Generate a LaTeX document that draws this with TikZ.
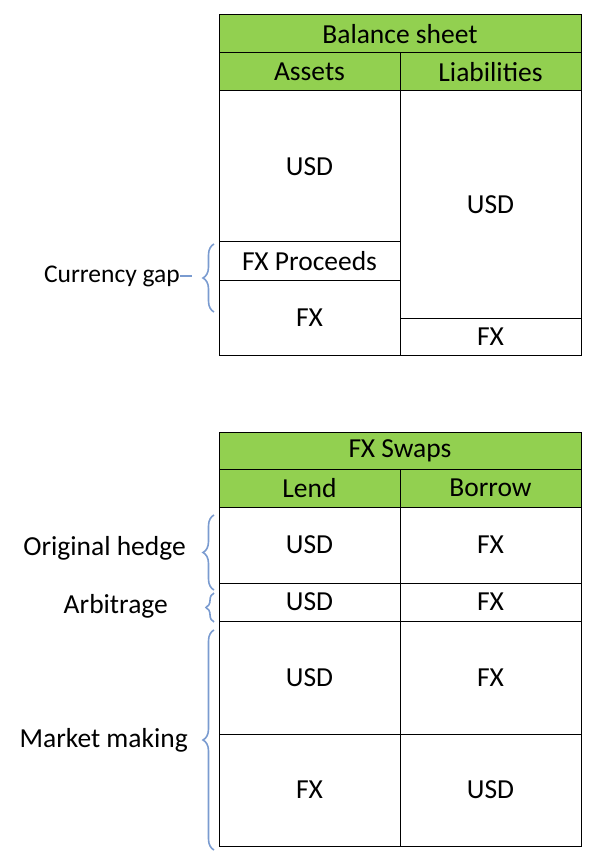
\documentclass[tikz,border=0pt]{standalone}
\usepackage{fontspec}
\setmainfont{Carlito}
\usetikzlibrary{decorations.pathreplacing}
\definecolor{hdr}{HTML}{92D050}
\definecolor{brc}{HTML}{7A9BD0}
\begin{document}
\begin{tikzpicture}[x=1pt,y=-1pt,
  cell/.style={draw=black,line width=1pt,minimum width=181pt,inner sep=0pt,font=\fontsize{27.5}{32}\selectfont},
  head/.style={cell,fill=hdr},
  lbl/.style={anchor=east,inner sep=0pt,font=\fontsize{27.5}{32}\selectfont},
  brc/.style={draw=brc,line width=1.6pt,decorate,decoration={brace,amplitude=11pt}}]
\useasboundingbox (0,0) rectangle (600,866);
% top table
\node[head,minimum width=362pt,minimum height=38pt] (bs) at (400,34) {Balance sheet};
\node[head,minimum height=38pt] (as) at (309.5,72) {Assets};
\node[head,minimum height=38pt] (li) at (490.5,72) {Liabilities};
\node[cell,minimum height=151pt] (ausd) at (309.5,166.5) {USD};
\node[cell,minimum height=38pt] (afp) at (309.5,261) {FX Proceeds};
\node[cell,minimum height=75pt] (afx) at (309.5,317.5) {FX};
\node[cell,minimum height=227pt] (lusd) at (490.5,204.5) {USD};
\node[cell,minimum height=37pt] (lfx) at (490.5,336.5) {FX};
% bottom table
\node[head,minimum width=362pt,minimum height=37pt] (fs) at (400,450.5) {FX Swaps};
\node[head,minimum height=38pt] (le) at (309.5,488) {Lend};
\node[head,minimum height=38pt] (bo) at (490.5,488) {Borrow};
\node[cell,minimum height=76pt] (r1a) at (309.5,545) {USD};
\node[cell,minimum height=76pt] (r1b) at (490.5,545) {FX};
\node[cell,minimum height=38pt] (r2a) at (309.5,602) {USD};
\node[cell,minimum height=38pt] (r2b) at (490.5,602) {FX};
\node[cell,minimum height=113pt] (r3a) at (309.5,677.5) {USD};
\node[cell,minimum height=113pt] (r3b) at (490.5,677.5) {FX};
\node[cell,minimum height=112pt] (r4a) at (309.5,790) {FX};
\node[cell,minimum height=112pt] (r4b) at (490.5,790) {USD};
% braces
\coordinate (c1) at (214,312); \coordinate (c2) at (214,244);
\draw[brc] (c1) -- (c2);
\node[lbl,font=\fontsize{25.5}{30}\selectfont] (cg) at (180,276) {Currency gap};
\draw[brc,decorate=false] (cg.east) -- ++(12,0);
\coordinate (o1) at (214,590); \coordinate (o2) at (214,515);
\draw[brc] (o1) -- (o2);
\node[lbl] (oh) at (186,548) {Original hedge};
\coordinate (a1) at (214,622); \coordinate (a2) at (214,593);
\draw[brc,decoration={amplitude=8pt}] (a1) -- (a2);
\node[lbl] (ar) at (168,606) {Arbitrage};
\coordinate (m1) at (214,850); \coordinate (m2) at (214,630);
\draw[brc] (m1) -- (m2);
\node[lbl] (mm) at (188,740) {Market making};
\end{tikzpicture}
\end{document}
